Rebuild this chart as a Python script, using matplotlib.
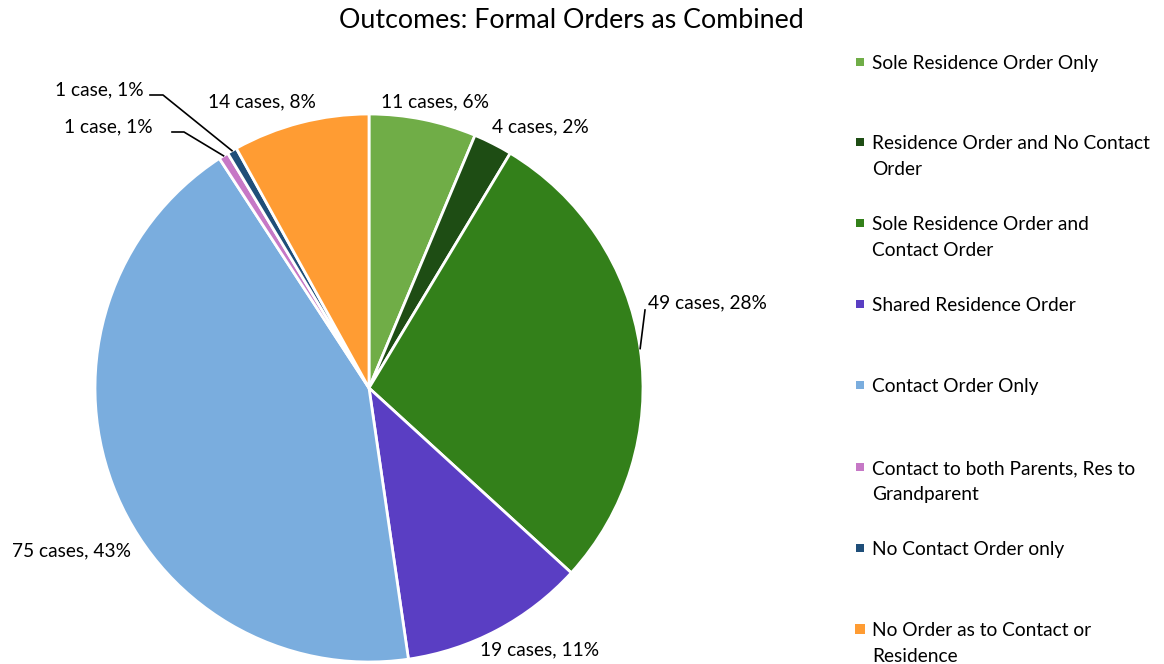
import matplotlib
matplotlib.use("Agg")
import matplotlib.pyplot as plt
from matplotlib.patches import Rectangle
import numpy as np

categories = [
    "Sole Residence Order Only",
    "Residence Order and No Contact\nOrder",
    "Sole Residence Order and\nContact Order",
    "Shared Residence Order",
    "Contact Order Only",
    "Contact to both Parents, Res to\nGrandparent",
    "No Contact Order only",
    "No Order as to Contact or\nResidence",
]
cases = [11, 4, 49, 19, 75, 1, 1, 14]
percents = [6, 2, 28, 11, 43, 1, 1, 8]
colors = ["#70AD47", "#1E4D14", "#33801A", "#5A3EC3", "#7AADDE", "#C678C6", "#1F4E79", "#FF9C33"]
title = "Outcomes: Formal Orders as Combined"

W, H = 1164, 664
FONT = "Lato"
plt.rcParams["font.family"] = [FONT, "DejaVu Sans"]

fig = plt.figure(figsize=(W / 100, H / 100), dpi=100)
cx, cy, R = 369, 388, 274
ax = fig.add_axes([(cx - R) / W, (H - cy - R) / H, 2 * R / W, 2 * R / H])
ax.set_aspect("equal")
wedges, _ = ax.pie(cases, colors=colors, startangle=90, counterclock=False,
                   radius=1, wedgeprops=dict(edgecolor="white", linewidth=2))
ax.set_xlim(-1, 1)
ax.set_ylim(-1, 1)
ax.axis("off")

def p2d(px, py):
    return ((px - cx) / R, (cy - py) / R)

def lab(i):
    return f"{cases[i]} case{'s' if cases[i] != 1 else ''}, {percents[i]}%"

fs = 13.8
# label positions (pixel centers), layout only
label_pos = {0: (435, 102), 1: (540, 127), 3: (540, 650), 4: (72, 551), 7: (262, 102)}
for i, (px, py) in label_pos.items():
    x, y = p2d(px, py)
    ax.text(x, y, lab(i), ha="center", va="center", fontsize=fs, clip_on=False)

# 49 cases label with leader line
w = wedges[2]
ang = np.deg2rad((w.theta1 + w.theta2) / 2)
x, y = p2d(648, 303)
ax.text(x, y, lab(2), ha="left", va="center", fontsize=fs, clip_on=False)
ax.plot([np.cos(ang) * 1.0, p2d(645, 310)[0]], [np.sin(ang) * 1.0, p2d(645, 310)[1]],
        color="black", lw=1.2, clip_on=False)

# small slices with bent leader lines
for i, (tx, ty, hx) in {5: (108, 127, (172, 184)), 6: (99, 90, (150, 163))}.items():
    w = wedges[i]
    ang = np.deg2rad((w.theta1 + w.theta2) / 2)
    ex, ey = np.cos(ang) * 1.0, np.sin(ang) * 1.0
    x, y = p2d(tx, ty)
    ax.text(x, y, lab(i), ha="center", va="center", fontsize=fs, clip_on=False)
    a = p2d(hx[0], ty + 5)
    b = p2d(hx[1], ty + 5)
    ax.plot([a[0], b[0], ex], [a[1], b[1], ey], color="black", lw=1.2, clip_on=False)

fig.text(571 / W, 1 - 21 / H, title, ha="center", va="center", fontsize=19.3)

# legend drawn manually
leg_y = [62, 142, 223, 304, 385, 467, 548, 629]
for i, (name, yy) in enumerate(zip(categories, leg_y)):
    s = 8 if i != 7 else 10
    fig.add_artist(Rectangle(((860 - s / 2) / W, (H - yy - s / 2) / H), s / W, s / H,
                             transform=fig.transFigure, color=colors[i], lw=0))
    fig.text(872 / W, (H - yy + 7) / H, name, ha="left", va="top", fontsize=fs,
             linespacing=1.62)

fig.savefig("out.png", dpi=100)
